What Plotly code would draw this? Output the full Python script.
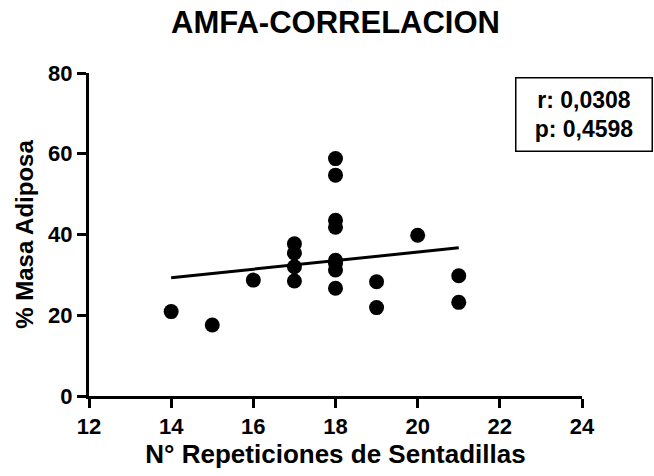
import plotly.graph_objects as go

reps = [14, 15, 16, 17, 17, 17, 17, 18, 18, 18, 18, 18, 18, 18, 18, 19, 19, 20, 21, 21]
masa = [20.9, 17.6, 28.7, 37.7, 35.4, 32.0, 28.5, 58.8, 54.7, 43.5, 41.8, 33.6, 32.8, 31.2, 26.7, 28.3, 21.9, 39.8, 29.8, 23.2]
fit_x = [14, 21]
fit_y = [29.3, 36.7]
x_ticks = [12, 14, 16, 18, 20, 22, 24]
y_ticks = [0, 20, 40, 60, 80]
stats_text = ["r: 0,0308", "p: 0,4598"]

FONT = "Liberation Sans, Arial, sans-serif"
W, H = 654, 476
L, R, T, B = 88.5, 72.3, 73.3, 77.7

fig = go.Figure()
fig.add_trace(go.Scatter(x=fit_x, y=fit_y, mode="lines",
                         line=dict(color="black", width=3), showlegend=False, hoverinfo="skip"))
fig.add_trace(go.Scatter(x=reps, y=masa, mode="markers",
                         marker=dict(color="black", size=15), showlegend=False))

axis_common = dict(showline=True, linecolor="black", linewidth=3, ticks="outside",
                   ticklen=9, tickwidth=3, tickcolor="black", showgrid=False, zeroline=False,
                   tickfont=dict(family=FONT, size=22, color="black"))

fig.update_xaxes(range=[12, 24], tickvals=x_ticks, ticktext=["<b>%d</b>" % v for v in x_ticks],
                 title=dict(text="<b>N° Repeticiones de Sentadillas</b>", standoff=6,
                            font=dict(family=FONT, size=26, color="black")),
                 **axis_common)
fig.update_yaxes(range=[0, 80], tickvals=y_ticks, ticktext=["<b>%d</b>" % v for v in y_ticks],
                 title=dict(text="<b>% Masa Adiposa</b>", standoff=8,
                            font=dict(family=FONT, size=24, color="black")),
                 **axis_common)

pw = W - L - R
ph = H - T - B
fig.add_annotation(xref="paper", yref="paper",
                   x=(583.5 - L) / pw, y=(H - B - 115.5) / ph, xanchor="center", yanchor="middle",
                   text="<br>".join("<b>%s</b>" % s for s in stats_text), showarrow=False, align="center",
                   width=125, height=62,
                   font=dict(family=FONT, size=23, color="black"),
                   bordercolor="black", borderwidth=1.5, borderpad=5, bgcolor="white")

fig.update_layout(
    width=W, height=H,
    margin=dict(l=L, r=R, t=T, b=B),
    paper_bgcolor="white", plot_bgcolor="white",
    title=dict(text="<b>AMFA-CORRELACION</b>", x=0.5, xanchor="center", y=1 - 22 / H, yanchor="middle",
               xref="paper", yref="container",
               font=dict(family=FONT, size=31, color="black")),
)

fig.write_html("out.html")
